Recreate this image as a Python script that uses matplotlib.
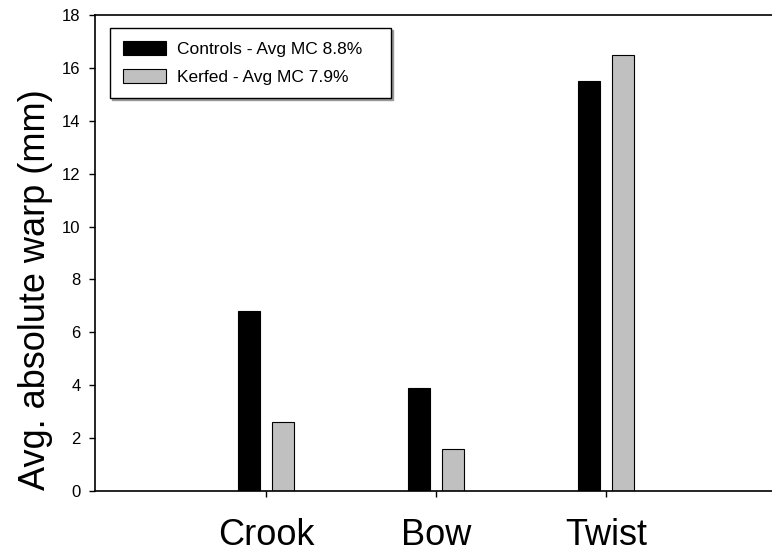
import numpy as np
import matplotlib.pyplot as plt

plt.rcParams['font.family'] = ['Liberation Sans', 'DejaVu Sans']

categories = ["Crook", "Bow", "Twist"]
controls = [6.8, 3.9, 15.5]
kerfed = [2.6, 1.6, 16.5]
series_labels = ["Controls - Avg MC 8.8%", "Kerfed - Avg MC 7.9%"]
yticks = [0, 2, 4, 6, 8, 10, 12, 14, 16, 18]

fig = plt.figure(figsize=(7.72, 5.52), dpi=100)
ax = fig.add_axes([95 / 772, 61 / 552, 677 / 772, 476 / 552])

x = np.arange(len(categories))
w = 0.13
off = 0.101
ax.bar(x - off, controls, w, color="black", edgecolor="black", linewidth=0.8,
       label=series_labels[0])
ax.bar(x + off, kerfed, w, color="#c0c0c0", edgecolor="black", linewidth=0.8,
       label=series_labels[1])

ax.set_xlim(-1.006, 2.976)
ax.set_ylim(0, 18)
ax.set_yticks(yticks)
ax.set_xticks(x)
ax.set_xticklabels(categories, fontsize=26)
ax.tick_params(axis="x", length=4.5, width=1, pad=15)
ax.tick_params(axis="y", length=4.5, width=1, labelsize=12, pad=6)

ax.spines["right"].set_visible(False)
for s in ["left", "bottom", "top"]:
    ax.spines[s].set_linewidth(1.2)

fig.text(0.046, 0.476, "Avg. absolute warp (mm)", rotation=90, fontsize=26,
         ha="center", va="center")

# legend box spans roughly x 110-391, y 28-99 px
leg = ax.legend(loc="upper left",
                bbox_to_anchor=(110 / 772, 1 - 99 / 552, 281 / 772, 71 / 552),
                bbox_transform=fig.transFigure, mode="expand", borderaxespad=0,
                fontsize=12.5, fancybox=False, edgecolor="black", framealpha=1,
                handlelength=2.5, handleheight=0.86, handletextpad=0.6,
                borderpad=0.75, labelspacing=0.7,
                shadow={"ox": 1.5, "oy": -1.5, "color": "0.6", "alpha": 1})
leg.get_frame().set_linewidth(1)

fig.savefig("out.png", dpi=100)
